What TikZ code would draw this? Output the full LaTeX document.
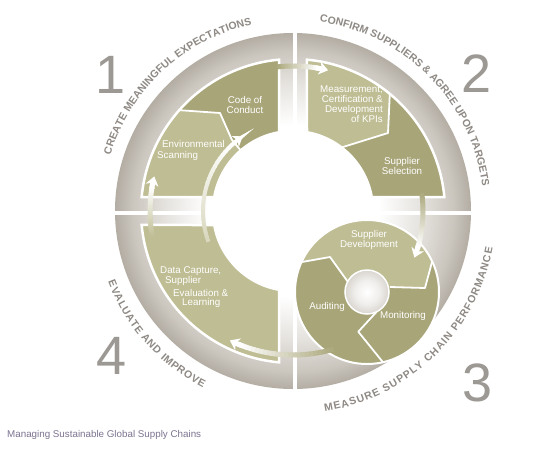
\documentclass[tikz,border=0pt]{standalone}
\usepackage{fontspec}
\setmainfont{Liberation Sans}
\usetikzlibrary{arrows.meta,decorations.text}
\definecolor{olivedark}{HTML}{A8A578}
\definecolor{olivelight}{HTML}{BFBD93}
\definecolor{ringgrey}{HTML}{CBC6BE}
\definecolor{ringdark}{HTML}{B3ADA4}
\definecolor{hubgrey}{HTML}{D9D5CF}
\definecolor{labelgrey}{HTML}{8E8984}
\definecolor{numgrey}{HTML}{9C9893}
\definecolor{captioncol}{HTML}{7D7390}
\pgfdeclareradialshading{discshade}{\pgfpoint{0bp}{0bp}}{color(0bp)=(white); color(12bp)=(white); color(18bp)=(ringgrey!50!white); color(22.5bp)=(ringgrey); color(25bp)=(ringdark); color(50bp)=(ringdark)}
\pgfdeclareradialshading{hubshade}{\pgfpoint{0bp}{0bp}}{color(0bp)=(white); color(14bp)=(hubgrey!40!white); color(25bp)=(hubgrey); color(50bp)=(hubgrey)}
\newcommand\arcfont{\fontsize{10.5}{12}\selectfont\bfseries\color{labelgrey}}
\newcommand\gradarrow[6]{%
  \pgfmathsetmacro\gaStop{(#3)-sign((#3)-(#2))*10/(#1)*180/pi}%
  \foreach \k in {0,...,23}{%
    \pgfmathsetmacro\gaA{(#2)+(\gaStop-(#2))*\k/24}%
    \pgfmathsetmacro\gaB{(#2)+(\gaStop-(#2))*(\k+1.25)/24}%
    \pgfmathtruncatemacro\gaP{100-100*\k/23}%
    \draw[line width=#6, draw=#4!\gaP!#5] (\gaA:#1) arc[start angle=\gaA, end angle=\gaB, radius=#1];%
  }%
  \pgfmathsetmacro\gaH{\gaStop-sign((#3)-(#2))*1}%
  \draw[line width=#6, draw=#5, -{Stealth[length=9pt, width=13pt, inset=2.5pt]}] (\gaH:#1) arc[start angle=\gaH, end angle=#3, radius=#1];%
}
\tikzset{
  sepline/.style={draw=white, line width=1.8pt, line join=round},
  qedge/.style={draw=white, line width=2.5pt},
  inlabel/.style={text=white, font=\fontsize{9.8}{10}\selectfont, inner sep=0pt, align=center},
  numlabel/.style={text=numgrey, font=\fontsize{54}{54}\selectfont, inner sep=0pt},
}
\begin{document}
\begin{tikzpicture}[x=1pt,y=1pt]
\useasboundingbox (-293,-237) rectangle (250,211);
\fill[white] (-293,-237) rectangle (250,211);
% disc
\shade[shading=discshade] (0,0) circle (178);
\fill[white] (-0.5,-182) rectangle (3.5,182);
\fill[white] (-182,-3.5) rectangle (182,0.5);
% quadrant 1
\begin{scope}
  \clip (95.28:152) arc[start angle=95.28, end angle=174.72, radius=152] -- (169.92:80) arc[start angle=169.92, end angle=100.08, radius=80] -- cycle;
  \fill[olivedark] (-160,0) rectangle (0,160);
  \fill[olivelight] (-200,103) -- (-116,101) -- (-73,98) -- (-61,71) -- (-40,47) -- (-40,0) -- (-200,0) -- cycle;
  \draw[sepline] (-130,102) -- (-116,101) -- (-73,98) -- (-61,71) -- (-45,52);
\end{scope}
\draw[qedge] (95.28:152) arc[start angle=95.28, end angle=174.72, radius=152] -- (169.92:80) arc[start angle=169.92, end angle=100.08, radius=80] -- cycle;
% quadrant 2
\begin{scope}
  \clip (84.72:152) arc[start angle=84.72, end angle=5.28, radius=152] -- (10.08:80) arc[start angle=10.08, end angle=79.92, radius=80] -- cycle;
  \fill[olivedark] (0,0) rectangle (160,160);
  \fill[olivelight] (98,170) -- (97,121) -- (95,78) -- (50,64) -- (30,40) -- (0,40) -- (0,170) -- cycle;
  \draw[sepline] (97.5,135) -- (97,121) -- (95,78) -- (50,64) -- (40,60);
\end{scope}
\draw[qedge] (84.72:152) arc[start angle=84.72, end angle=5.28, radius=152] -- (10.08:80) arc[start angle=10.08, end angle=79.92, radius=80] -- cycle;
% quadrant 4
\fill[olivelight, qedge] (185.28:152) arc[start angle=185.28, end angle=264.72, radius=152] -- (259.92:80) arc[start angle=259.92, end angle=190.08, radius=80] -- cycle;
% circle 3
\coordinate (c3) at (74,-81);
\fill[olivedark] (c3) circle (72);
\begin{scope}
  \clip (c3) circle (72);
  \fill[olivelight] (0,-52.6) -- (37,-46) -- (55,-71) -- (74,-81) -- (97,-76) -- (132,-77) -- (145,-28.7) -- (145,20) -- (0,20) -- cycle;
  \draw[sepline] (0,-52.6) -- (37,-46) -- (55,-71);
  \draw[sepline] (97,-76) -- (132,-77) -- (145,-28.7);
  \draw[sepline] (83.7,-100.7) -- (65.3,-120.7) -- (93,-155);
\end{scope}
\draw[white, line width=2pt] (c3) circle (72);
\shade[shading=hubshade, draw=white, line width=1.5pt] (c3) circle (22);
% arrows
\gradarrow{90}{200}{124}{olivelight!60!white}{white}{4pt}
\gradarrow{145}{97}{76}{olivedark}{white}{5pt}
\gradarrow{130}{9}{-21}{olivedark}{white}{5pt}
\gradarrow{144}{-72}{-116}{olivedark}{white}{5pt}
\gradarrow{143}{191}{166}{olivelight}{white}{5pt}
% curved headings
\path[decorate, decoration={text along path, text align={fit to path}, text={|\arcfont|CREATE MEANINGFUL EXPECTATIONS}}] (163:191) arc[start angle=163, end angle=102.5, radius=191];
\path[decorate, decoration={text along path, text align={fit to path}, text={|\arcfont|CONFIRM SUPPLIERS {\&} AGREE UPON TARGETS}}] (82:191) arc[start angle=82, end angle=8, radius=191];
\path[decorate, decoration={text along path, text align={fit to path}, text={|\arcfont|MEASURE SUPPLY CHAIN PERFORMANCE}}] (-81:203) arc[start angle=-81, end angle=-10.5, radius=203];
\path[decorate, decoration={text along path, text align={fit to path}, text={|\arcfont|EVALUATE AND IMPROVE}}] (201:198) arc[start angle=201, end angle=243, radius=198];
% numbers
\node[numlabel] (n1) at (-182,136) {1};
\node[numlabel] (n2) at (184,137.5) {2};
\node[numlabel] (n3) at (184.5,-171.5) {3};
\node[numlabel] (n4) at (-181,-145) {4};
% labels
\node[inlabel] (cc) at (-48,106) {Code of\\Conduct};
\node[inlabel, anchor=west] (es1) at (-131,67) {Environmental};
\node[inlabel, anchor=west] (es2) at (-136,55.5) {Scanning};
\node[inlabel, align=right, anchor=east] (mk) at (90,107) {Measurement,\\Certification \&\\Development\\of KPIs};
\node[inlabel] (ss) at (109,45) {Supplier\\Selection};
\node[inlabel] (sd) at (76,-29) {Supplier\\Development};
\node[inlabel] (au) at (34,-96) {Auditing};
\node[inlabel] (mo) at (110,-105) {Monitoring};
\node[inlabel, anchor=west] (dc1) at (-133,-60) {Data Capture,};
\node[inlabel, anchor=west] (dc2) at (-128,-70) {Supplier};
\node[inlabel, anchor=west] (dc3) at (-120,-81.5) {Evaluation \&};
\node[inlabel, anchor=west] (dc4) at (-111,-92) {Learning};
\node[anchor=base west, inner sep=0pt, text=captioncol, font=\fontsize{9.8}{11}\selectfont] (cap) at (-286,-226.7) {Managing Sustainable Global Supply Chains};
\end{tikzpicture}
\end{document}
